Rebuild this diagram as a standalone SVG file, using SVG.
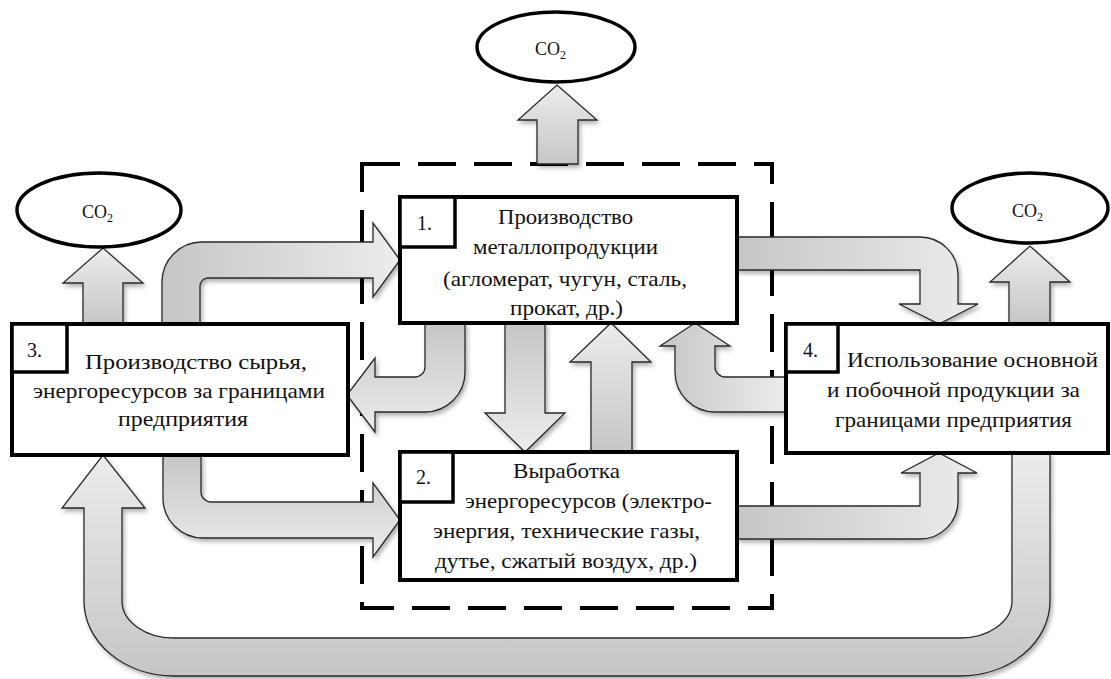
<svg xmlns="http://www.w3.org/2000/svg" width="1111" height="679" viewBox="0 0 1111 679">
  <defs>
    <linearGradient id="gH" x1="0" y1="0" x2="1" y2="0">
      <stop offset="0" stop-color="#c6c6c6"/>
      <stop offset="1" stop-color="#ececec"/>
    </linearGradient>
    <linearGradient id="gV" x1="0" y1="1" x2="0" y2="0">
      <stop offset="0" stop-color="#c6c6c6"/>
      <stop offset="1" stop-color="#ececec"/>
    </linearGradient>
    <linearGradient id="gD" x1="0" y1="0" x2="0" y2="1">
      <stop offset="0" stop-color="#c6c6c6"/>
      <stop offset="1" stop-color="#ececec"/>
    </linearGradient>
    <filter id="sh" x="-10%" y="-10%" width="130%" height="130%">
      <feDropShadow dx="2" dy="3" stdDeviation="2" flood-color="#000" flood-opacity="0.3"/>
    </filter>
    <style>
      .box { fill: #ffffff; stroke: #000; stroke-width: 4; }
      .num { fill: #ffffff; stroke: #000; stroke-width: 3.5; }
      .ell { fill: #ffffff; stroke: #000; stroke-width: 3.5; }
      .arr { stroke: #2a2a2a; stroke-width: 1.3; stroke-linejoin: miter; filter: url(#sh); }
      .t { font-family: "Liberation Serif", "DejaVu Serif", serif; font-size: 21px; fill: #111; }
      .n { font-family: "Liberation Serif", "DejaVu Serif", serif; font-size: 20px; fill: #111; }
      .co { font-family: "Liberation Serif", "DejaVu Serif", serif; font-size: 18px; fill: #111; }
      .dash { fill: none; stroke: #000; stroke-width: 4; stroke-dasharray: 38 18; }
    </style>
  </defs>

  <rect width="1111" height="679" fill="#ffffff"/>

  <!-- enterprise boundary -->
  <rect class="dash" x="362" y="164" width="410" height="444"/>

  <g id="connectors">
    <path class="arr" fill="url(#gV)" d="M537,164 L537,120 L518,120 L557,85 L597,120 L578,120 L578,164 Z"/>
    <path class="arr" fill="url(#gV)" d="M83,324 L83,283 L63,283 L103,248 L143,283 L123,283 L123,324 Z"/>
    <path class="arr" fill="url(#gV)" d="M1009,324 L1009,282 L990,282 L1030,246 L1070,282 L1050,282 L1050,324 Z"/>
    <path class="arr" fill="url(#gH)" d="M162,324 L162,282 A40,40 0 0 1 202,242 L373,242 L373,223 L400,260 L373,297 L373,278 L208,278 A8,8 0 0 0 200,286 L200,324 Z"/>
    <path class="arr" fill="url(#gD)" d="M425,323 L425,367 A10,10 0 0 1 415,377 L375,377 L375,358 L347,395 L375,432 L375,412 L425,412 A40,40 0 0 0 465,372 L465,323 Z"/>
    <path class="arr" fill="url(#gD)" d="M505,323 L505,413 L485,413 L525,452 L565,413 L545,413 L545,323 Z"/>
    <path class="arr" fill="url(#gV)" d="M591,452 L591,362 L570,362 L611,323 L651,362 L632,362 L632,452 Z"/>
    <path class="arr" fill="url(#gH)" d="M737,237 L920,237 A38,38 0 0 1 958,275 L958,304 L978,304 L939,324 L899,304 L920,304 L920,270 L737,270 Z"/>
    <path class="arr" fill="url(#gH)" d="M786,377 L725,377 A10,10 0 0 1 715,367 L715,346 L730,346 L695,323 L660,346 L675,346 L675,372 A40,40 0 0 0 715,412 L786,412 Z"/>
    <path class="arr" fill="url(#gD)" d="M163,455 L163,498 A40,40 0 0 0 203,538 L373,538 L373,557 L400,520 L373,483 L373,502 L211,502 A10,10 0 0 1 201,492 L201,455 Z"/>
    <path class="arr" fill="url(#gH)" d="M737,506 L920,506 L920,473 L901,473 L939,453 L977,473 L958,473 L958,501 A38,38 0 0 1 920,539 L737,539 Z"/>
    <path class="arr" fill="url(#gV)" d="M1012,453 L1012,601 A52,37 0 0 1 960,638 L174,638 A52,37 0 0 1 122,601 L122,508 L145,508 L103,455 L62,508 L84,508 L84,601 A90,75 0 0 0 174,676 L960,676 A90,75 0 0 0 1050,601 L1050,453 Z"/>
  </g>

  <g id="co2-top">
    <ellipse class="ell" cx="556" cy="47" rx="79" ry="35"/>
    <text class="co" x="535" y="55">CO<tspan font-size="12" dy="4">2</tspan></text>
  </g>
  <g id="co2-left">
    <ellipse class="ell" cx="99" cy="210" rx="82" ry="37"/>
    <text class="co" x="82" y="218">CO<tspan font-size="12" dy="4">2</tspan></text>
  </g>
  <g id="co2-right">
    <ellipse class="ell" cx="1030" cy="208" rx="78" ry="35"/>
    <text class="co" x="1012" y="217">CO<tspan font-size="12" dy="4">2</tspan></text>
  </g>

  <g id="node1">
    <rect class="box" x="400" y="197" width="337" height="126"/>
    <rect class="num" x="400" y="197" width="55" height="50"/>
    <text class="n" x="417" y="230">1.</text>
    <text class="t" x="498" y="224" textLength="135" lengthAdjust="spacingAndGlyphs">Производство</text>
    <text class="t" x="473" y="254" textLength="185" lengthAdjust="spacingAndGlyphs">металлопродукции</text>
    <text class="t" x="443" y="286" textLength="244" lengthAdjust="spacingAndGlyphs">(агломерат, чугун, сталь,</text>
    <text class="t" x="510" y="315" textLength="113" lengthAdjust="spacingAndGlyphs">прокат, др.)</text>
  </g>

  <g id="node2">
    <rect class="box" x="400" y="452" width="337" height="128"/>
    <rect class="num" x="400" y="452" width="53" height="50"/>
    <text class="n" x="416" y="484">2.</text>
    <text class="t" x="513" y="478" textLength="107" lengthAdjust="spacingAndGlyphs">Выработка</text>
    <text class="t" x="465" y="508" textLength="247" lengthAdjust="spacingAndGlyphs">энергоресурсов (электро-</text>
    <text class="t" x="433" y="538" textLength="267" lengthAdjust="spacingAndGlyphs">энергия, технические газы,</text>
    <text class="t" x="435" y="568" textLength="262" lengthAdjust="spacingAndGlyphs">дутье, сжатый воздух, др.)</text>
  </g>

  <g id="node3">
    <rect class="box" x="12" y="324" width="336" height="131"/>
    <rect class="num" x="12" y="324" width="55" height="48"/>
    <text class="n" x="27" y="357">3.</text>
    <text class="t" x="85" y="369" textLength="222" lengthAdjust="spacingAndGlyphs">Производство сырья,</text>
    <text class="t" x="33" y="398" textLength="292" lengthAdjust="spacingAndGlyphs">энергоресурсов за границами</text>
    <text class="t" x="118" y="426" textLength="130" lengthAdjust="spacingAndGlyphs">предприятия</text>
  </g>

  <g id="node4">
    <rect class="box" x="786" y="324" width="322" height="129"/>
    <rect class="num" x="786" y="324" width="52" height="48"/>
    <text class="n" x="803" y="357">4.</text>
    <text class="t" x="847" y="367" textLength="251" lengthAdjust="spacingAndGlyphs">Использование основной</text>
    <text class="t" x="827" y="397" textLength="253" lengthAdjust="spacingAndGlyphs">и побочной продукции за</text>
    <text class="t" x="835" y="427" textLength="237" lengthAdjust="spacingAndGlyphs">границами предприятия</text>
  </g>
</svg>
